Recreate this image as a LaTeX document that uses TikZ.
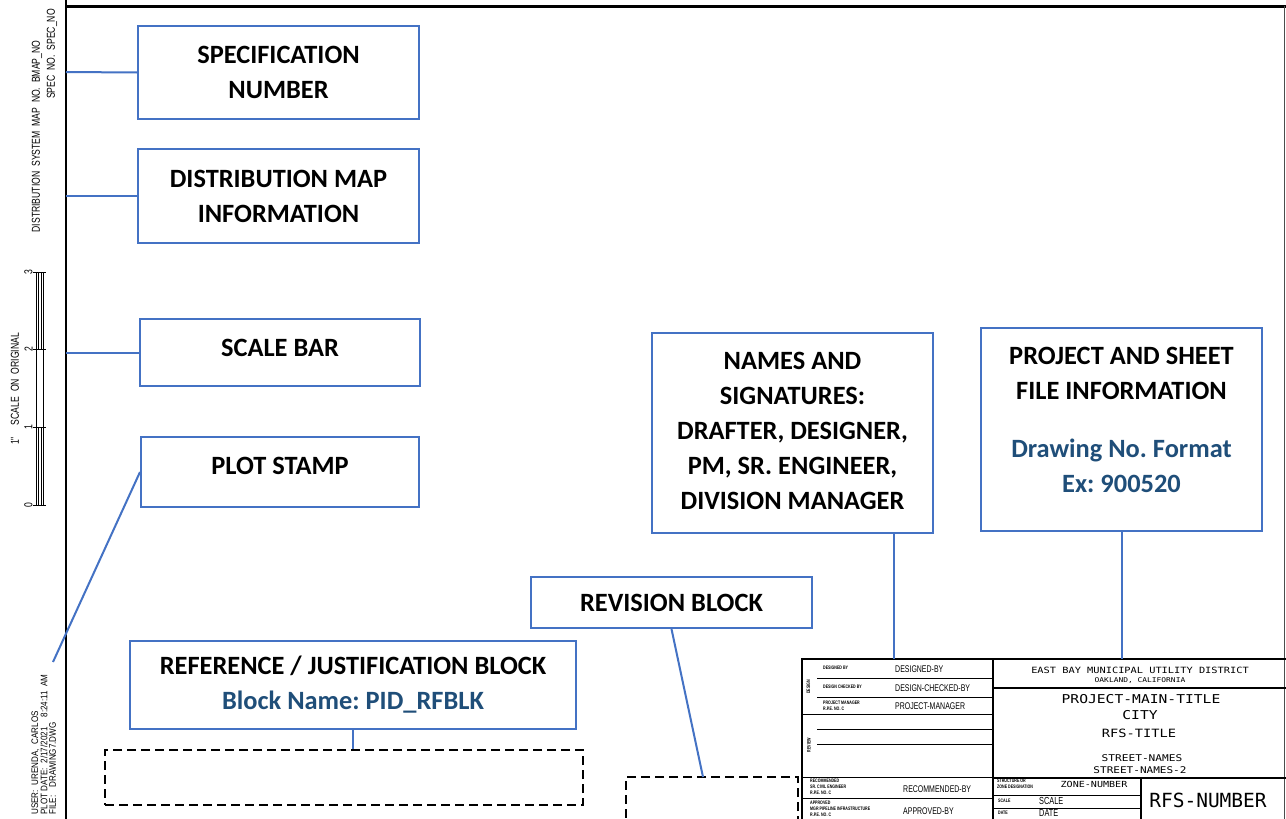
\documentclass[tikz,border=0pt]{standalone}
\usepackage{fontspec}
\setmainfont{Carlito}
\newfontfamily\cadfont[FakeStretch=0.72]{Liberation Sans}
\newfontfamily\sidefont[FakeStretch=0.75]{Liberation Sans}
\newfontfamily\stampfont[FakeStretch=0.85]{Liberation Sans}
\newfontfamily\cadmono[FakeStretch=1.2]{DejaVu Sans Mono}
\newfontfamily\cadbig{DejaVu Sans Mono}
\usetikzlibrary{positioning}
\usetikzlibrary{calc}
\definecolor{boxblue}{RGB}{68,114,196}
\definecolor{noteblue}{RGB}{31,78,121}
\frenchspacing
\tikzset{
	callout/.style={draw=boxblue,line width=2pt,fill=white,align=center,inner sep=0pt,
		font=\bfseries\fontsize{26.4}{35}\selectfont},
	leader/.style={draw=boxblue,line width=2pt},
	dashbox/.style={draw=black,line width=2pt,dash pattern=on 9pt off 5pt,inner sep=0pt},
	cad/.style={font=\cadfont\fontsize{9.7}{11}\selectfont,inner sep=0pt},
	side/.style={font=\sidefont\fontsize{11.5}{13}\selectfont,inner sep=0pt,rotate=90},
	stamp/.style={font=\stampfont\fontsize{9.5}{10}\selectfont,inner sep=0pt,rotate=90,anchor=west},
	tinylbl/.style={font=\cadfont\bfseries\fontsize{5}{6}\selectfont,inner sep=0pt,align=left,anchor=west},
	mono/.style={font=\cadmono,inner sep=0pt},
}

\begin{document}
\begin{tikzpicture}[x=1pt,y=-1pt]
	\clip (0,0) rectangle (1286,819);
	\fill [white] (0,0) rectangle (1286,819);

	% sheet border.....................
	\draw [line width=1.5pt] (66,0) -- (66,819);
	\draw [line width=3pt] (66,6) -- (1286,6);
	\draw [line width=1.5pt, black!70] (1284.5,6) -- (1284.5,819);

	% map and spec numbers.....................
	\node [side] (mapno) at (37,136.5) {DISTRIBUTION\ \ SYSTEM\ \ MAP\ \ NO.\ \ BMAP\_NO};
	\node [side] (specno) at (52,54) {SPEC\ \ NO.\ \ SPEC\_NO};

	% scale bar.....................
	\draw (36,272) -- (36,505) (43,272) -- (43,505);
	\draw (38.3,272) -- (38.3,349) (40.7,272) -- (40.7,349);
	\draw (38.3,427) -- (38.3,505) (40.7,427) -- (40.7,505);
	\foreach \y/\n in {505/0,427/1,349/2,272/3} {
		\draw (33,\y) -- (46,\y);
		\node [side] at (28.5,\y) {\n};
	}
	\node [side] (inch) at (15,441) {1"};
	\node [side] (scaletxt) at (15,379) {SCALE\ \ ON\ \ ORIGINAL};

	% plot stamp.....................
	\node [stamp] (user) at (35.5,815) {USER:\hspace{5pt}URENDA,\ \ CARLOS};
	\node [stamp] (date) at (44,815) {PLOT\ DATE:\hspace{5pt}2/17/2021\hspace{10pt}8:24:11\ \ AM};
	\node [stamp] (file) at (52.5,815) {FILE:\hspace{8pt}DRAWING7.DWG};

	% title block.....................
	\draw [line width=2pt] (802,825) -- (802,659) -- (1286,659);
	\draw [line width=1.5pt] (993,659) -- (993,825);
	\draw [line width=0.8pt] (817,678) -- (993,678) (817,697) -- (993,697)
		(802,714) -- (993,714) (817,729) -- (993,729) (817,744) -- (993,744)
		(802,777) -- (993,777) (802,798) -- (993,798);
	\draw [line width=1.5pt] (993,688) -- (1286,688) (993,778) -- (1286,778) (1141,778) -- (1141,825);
	\draw [line width=0.8pt] (993,795) -- (1141,795) (993,808) -- (1141,808);

	\node [tinylbl, rotate=90, anchor=center] at (808.5,687) {DESIGN};
	\node [tinylbl, rotate=90, anchor=center] at (809,745) {REVIEW};
	\node [tinylbl] at (823,668) {DESIGNED BY};
	\node [tinylbl] at (823,687) {DESIGN CHECKED BY};
	\node [tinylbl] at (823,706) {PROJECT MANAGER\\R.P.E. NO. C};
	\node [tinylbl] at (810,787) {RECOMMENDED\\SR. CIVIL ENGINEER\\R.P.E. NO. C};
	\node [tinylbl] at (810,808.5) {APPROVED\\MGR PIPELINE INFRASTRUCTURE\\R.P.E. NO. C};
	\node [cad, anchor=west] at (895,669) {DESIGNED-BY};
	\node [cad, anchor=west] at (895,688) {DESIGN-CHECKED-BY};
	\node [cad, anchor=west] at (895,706) {PROJECT-MANAGER};
	\node [cad, anchor=west] at (903,789) {RECOMMENDED-BY};
	\node [cad, anchor=west] at (903,811) {APPROVED-BY};

	\node [mono, font=\cadmono\fontsize{8.6}{10}\selectfont] at (1140,670.5) {EAST BAY MUNICIPAL UTILITY DISTRICT};
	\node [mono, font=\cadmono\fontsize{6.6}{8}\selectfont] at (1140,680.5) {OAKLAND, CALIFORNIA};
	\node [mono, font=\cadmono\fontsize{12.2}{14}\selectfont] at (1141,699) {PROJECT-MAIN-TITLE};
	\node [mono, font=\cadmono\fontsize{12.2}{14}\selectfont] at (1140,715) {CITY};
	\node [mono, font=\cadmono\fontsize{11.4}{14}\selectfont] at (1139,733.5) {RFS-TITLE};
	\node [mono, font=\cadmono\fontsize{9.3}{11}\selectfont] at (1142,758.5) {STREET-NAMES};
	\node [mono, font=\cadmono\fontsize{9.2}{11}\selectfont] at (1140,770.5) {STREET-NAMES-2};
	\node [tinylbl] at (997,784) {STRUCTURE OR\\ZONE DESIGNATION};
	\node [mono, font=\cadmono\fontsize{8.4}{10}\selectfont] at (1094,784) {ZONE-NUMBER};
	\node [tinylbl] at (998,800.5) {SCALE};
	\node [tinylbl] at (998,813) {DATE};
	\node [cad, anchor=west, font=\cadfont\fontsize{10.2}{12}\selectfont] at (1039,800.5) {SCALE};
	\node [cad, anchor=west, font=\cadfont\fontsize{10.2}{12}\selectfont] at (1039,813) {DATE};
	\node [mono, font=\cadbig\fontsize{19.5}{22}\selectfont] at (1208,800.5) {RFS-NUMBER};

	% callout boxes.....................
	\node [callout, minimum width=281pt, minimum height=93pt] (spec) at (278.5,72.5) {SPECIFICATION\\NUMBER};
	\node [callout, minimum width=281pt, minimum height=94pt] (distmap) at (278.5,196) {DISTRIBUTION MAP\\INFORMATION};
	\node [callout, minimum width=280pt, minimum height=67pt, text depth=10pt] (scalebar) at (280,352.5) {SCALE BAR};
	\node [callout, minimum width=278pt, minimum height=70pt, text depth=12pt] (plotstamp) at (280,472) {PLOT STAMP};
	\node [callout, minimum width=446pt, minimum height=88pt] (refblk) at (353,685)
		{REFERENCE / JUSTIFICATION BLOCK\\\textcolor{noteblue}{Block Name: PID\_RFBLK}};
	\node [callout, minimum width=281pt, minimum height=51pt] (revblk) at (671.5,602.5) {\raisebox{-2.5pt}{REVISION BLOCK}};
	\node [callout, minimum width=281pt, minimum height=200pt, text depth=4pt] (names) at (792.5,433)
		{NAMES AND\\SIGNATURES:\\DRAFTER, DESIGNER,\\PM, SR. ENGINEER,\\DIVISION MANAGER};
	\node [callout, minimum width=281pt, minimum height=203pt, text depth=20pt] (projinfo) at (1121.5,429.5)
		{PROJECT AND SHEET\\FILE INFORMATION\\[23pt]\textcolor{noteblue}{Drawing No. Format}\\\textcolor{noteblue}{Ex: 900520}};

	% empty areas.....................
	\node [dashbox, minimum width=478pt, minimum height=55pt] (refarea) at (344,777.5) {};
	\node [dashbox, minimum width=172pt, minimum height=58pt] (revarea) at (712,806) {};

	% leader lines.....................
	\coordinate (specpt) at (66,72);
	\coordinate (distpt) at (66,196);
	\coordinate (scalept) at (66,352.5);
	\coordinate (stamppt) at (53,662);
	\coordinate (revpt) at (703,777);
	\coordinate (signpt) at (894,659);
	\coordinate (infopt) at (1124,659);
	\draw [leader] (specpt) -- (spec.west);
	\draw [leader] (distpt) -- (distmap.west);
	\draw [leader] (scalept) -- (scalebar.west);
	\draw [leader] (stamppt) -- (plotstamp.west);
	\draw [leader] (refblk.south) -- (refblk.south |- refarea.north);
	\draw [leader] (revblk.south) -- (revpt);
	\draw [leader] (signpt |- names.south) -- (signpt);
	\draw [leader] (projinfo.south) -- (projinfo.south |- infopt);
\end{tikzpicture}
\end{document}
